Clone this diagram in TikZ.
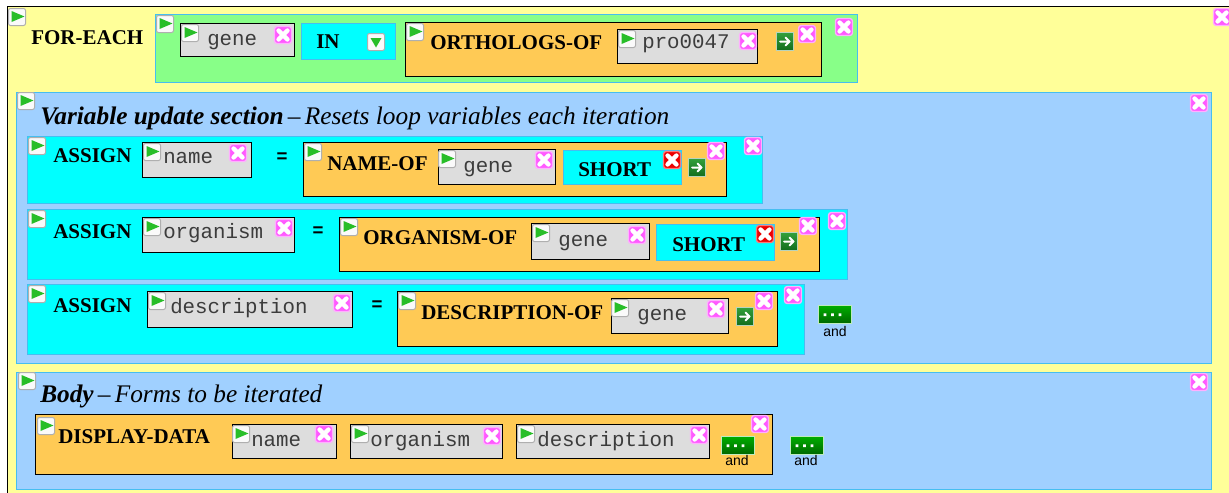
\documentclass[tikz,border=0pt]{standalone}
\usepackage{fontspec}
\setmainfont{Liberation Serif}
\newfontfamily\codefont{Liberation Mono}
\newfontfamily\labelfont{Liberation Sans}

\definecolor{pagebg}{RGB}{255,255,153}
\definecolor{argsgreen}{RGB}{136,255,136}
\definecolor{edgeblue}{RGB}{70,190,240}
\definecolor{sectionblue}{RGB}{160,208,255}
\definecolor{rowcyan}{RGB}{0,255,255}
\definecolor{formorange}{RGB}{255,202,85}
\definecolor{slotgrey}{RGB}{221,221,221}
\definecolor{codegrey}{RGB}{60,60,60}
\definecolor{playgreen}{RGB}{40,190,40}
\definecolor{iconface}{RGB}{250,250,250}
\definecolor{iconrim}{RGB}{175,175,175}
\definecolor{closepink}{RGB}{255,90,255}
\definecolor{closerim}{RGB}{255,175,255}
\definecolor{closered}{RGB}{235,0,0}
\definecolor{redrim}{RGB}{255,120,120}
\definecolor{gotop}{RGB}{50,160,60}
\definecolor{gobottom}{RGB}{20,110,30}
\definecolor{moretop}{RGB}{0,175,0}
\definecolor{morebottom}{RGB}{0,105,0}

\tikzset{
  px/.style={line width=0.75pt},
  sectionbox/.style={fill=sectionblue,draw=edgeblue,px},
  rowbox/.style={fill=rowcyan,draw=edgeblue,px},
  argsbox/.style={fill=argsgreen,draw=edgeblue,px},
  formbox/.style={fill=formorange,draw=black,px},
  slotbox/.style={fill=slotgrey,draw=black,px},
  kw/.style={font=\bfseries\fontsize{15.75}{18}\selectfont,anchor=base west,inner sep=0pt},
  code/.style={font=\codefont\fontsize{15.6}{18}\selectfont,text=codegrey,anchor=base west,inner sep=0pt},
  heading/.style={font=\itshape\fontsize{19}{22}\selectfont,anchor=base west,inner sep=0pt},
  eqsign/.style={font=\labelfont\bfseries\fontsize{14}{16}\selectfont,inner sep=0pt},
  andlabel/.style={font=\labelfont\fontsize{10.5}{12}\selectfont,anchor=base,inner sep=0pt},
  % small buttons, placed by their top left corner
  playbtn/.pic={
    \filldraw[fill=iconface,draw=iconrim,line width=0.75pt,rounded corners=1.5pt]
      (0.5,0.5) rectangle (17.5,17.5);
    \fill[playgreen] (3.5,3) -- (16.5,8.5) -- (3.5,14) -- cycle;
  },
  dropbtn/.pic={
    \filldraw[fill=iconface,draw=iconrim,line width=0.75pt,rounded corners=1.5pt]
      (0.5,0.5) rectangle (17.5,17.5);
    \fill[playgreen] (3.5,5) -- (14.5,5) -- (9,14.5) -- cycle;
  },
  closebtn/.pic={
    \filldraw[fill=closepink,draw=closerim,line width=1pt,rounded corners=2pt]
      (0.5,0.5) rectangle (17.5,17.5);
    \draw[white,line width=3.4pt,line cap=round] (4.6,4.6) -- (13.4,13.4) (13.4,4.6) -- (4.6,13.4);
  },
  redclose/.pic={
    \filldraw[fill=closered,draw=redrim,line width=1pt,rounded corners=2pt]
      (0.5,0.5) rectangle (17.5,17.5);
    \draw[white,line width=3.4pt,line cap=round] (4.6,4.6) -- (13.4,13.4) (13.4,4.6) -- (4.6,13.4);
  },
  gobtn/.pic={
    \shadedraw[top color=gotop,bottom color=gobottom,draw=white!70!gobottom,line width=0.6pt]
      (0.5,0.5) rectangle (17.5,18);
    \draw[white,line width=1.5pt,line cap=round,line join=round]
      (4,9.5) -- (13.5,9.5) (9.5,5.5) -- (13.5,9.5) -- (9.5,13.5);
  },
  andbtn/.pic={
    \shadedraw[top color=moretop,bottom color=morebottom,draw=white!75!moretop,line width=0.75pt]
      (0,0) rectangle (33,18);
    \fill[white] (5.7,8.3) rectangle (8.4,11)
                 (13.2,8.3) rectangle (15.9,11)
                 (20.7,8.3) rectangle (23.4,11);
  }
}

\begin{document}
\begin{tikzpicture}[x=0.75pt,y=-0.75pt]
\useasboundingbox (0,0) rectangle (1229,493);
\fill[white] (0,0) rectangle (1229,493);

% FOR-EACH form
\fill[pagebg] (7,6) rectangle (1229,493);
\draw[black,px] (7,493) -- (7,6) -- (1229,6);
\pic at (8,8) {playbtn};
\node[kw] (foreach) at (31,44) {FOR-EACH};
\pic at (1213,8) {closebtn};

% loop clause
\filldraw[argsbox] (155,14) rectangle (857,82);
\pic at (156,15) {playbtn};
\filldraw[slotbox] (180,23) rectangle (294,56);
\pic at (181,24) {playbtn};
\node[code] (loopvar) at (207,45) {gene};
\pic at (274,26) {closebtn};
\filldraw[rowbox] (301,23) rectangle (395,59);
\node[kw] (inkw) at (316,48) {IN};
\pic at (367,33) {dropbtn};
\filldraw[formbox] (405,22) rectangle (821,76);
\pic at (406,23) {playbtn};
\node[kw] (orthologs) at (430,49) {ORTHOLOGS-OF};
\filldraw[slotbox] (617,29) rectangle (757,63);
\pic at (618,30) {playbtn};
\node[code] (protein) at (642,48) {pro0047};
\pic at (739,32) {closebtn};
\pic at (776,32) {gobtn};
\pic at (798,25) {closebtn};
\pic at (835,18) {closebtn};

% variable update section
\filldraw[sectionbox] (16,92) rectangle (1211,363);
\pic at (17,92) {playbtn};
\node[heading] (varhead) at (40,124) {\textbf{Variable update section}\,--\,Resets loop variables each iteration};
\pic at (1190,94) {closebtn};

% ASSIGN name
\filldraw[rowbox] (27,136) rectangle (762,203);
\pic at (28,137) {playbtn};
\node[kw] (assignA) at (53,162) {ASSIGN};
\filldraw[slotbox] (142,142) rectangle (251,177);
\pic at (143,143) {playbtn};
\node[code] (nameA) at (163,163) {name};
\pic at (229,144) {closebtn};
\node[eqsign] (eqA) at (282,158) {=};
\filldraw[formbox] (303,142) rectangle (726,196);
\pic at (304,143) {playbtn};
\node[kw] (nameof) at (327,170) {NAME-OF};
\filldraw[slotbox] (438,149) rectangle (555,184);
\pic at (438,150) {playbtn};
\node[code] (geneA) at (463,172) {gene};
\pic at (535,151) {closebtn};
\filldraw[rowbox] (563,150) rectangle (681,184);
\node[kw] (shortA) at (578,176) {SHORT};
\pic at (663,151) {redclose};
\pic at (688,158) {gobtn};
\pic at (707,142) {closebtn};
\pic at (744,137) {closebtn};

% ASSIGN organism
\filldraw[rowbox] (27,209) rectangle (847,279);
\pic at (28,210) {playbtn};
\node[kw] (assignB) at (53,238) {ASSIGN};
\filldraw[slotbox] (142,217) rectangle (294,252);
\pic at (143,218) {playbtn};
\node[code] (organismB) at (163,238) {organism};
\pic at (275,219) {closebtn};
\node[eqsign] (eqB) at (318,232) {=};
\filldraw[formbox] (339,217) rectangle (819,271);
\pic at (340,218) {playbtn};
\node[kw] (organismof) at (363,244) {ORGANISM-OF};
\filldraw[slotbox] (531,223) rectangle (649,259);
\pic at (532,224) {playbtn};
\node[code] (geneB) at (558,246) {gene};
\pic at (628,226) {closebtn};
\filldraw[rowbox] (656,224) rectangle (774,260);
\node[kw] (shortB) at (672,251) {SHORT};
\pic at (756,225) {redclose};
\pic at (780,232) {gobtn};
\pic at (799,217) {closebtn};
\pic at (828,212) {closebtn};

% ASSIGN description
\filldraw[rowbox] (27,284) rectangle (804,354);
\pic at (28,285) {playbtn};
\node[kw] (assignC) at (53,312) {ASSIGN};
\filldraw[slotbox] (147,291) rectangle (352,327);
\pic at (148,292) {playbtn};
\node[code] (descC) at (170,313) {description};
\pic at (333,294) {closebtn};
\node[eqsign] (eqC) at (377,306) {=};
\filldraw[formbox] (397,291) rectangle (777,346);
\pic at (398,292) {playbtn};
\node[kw] (descof) at (421,319) {DESCRIPTION-OF};
\filldraw[slotbox] (611,298) rectangle (728,333);
\pic at (611,299) {playbtn};
\node[code] (geneC) at (637,320) {gene};
\pic at (707,300) {closebtn};
\pic at (736,307) {gobtn};
\pic at (755,292) {closebtn};
\pic at (784,286) {closebtn};
\pic at (818,305) {andbtn};
\node[andlabel] (andC) at (835,336) {and};

% body section
\filldraw[sectionbox] (16,372) rectangle (1211,489);
\pic at (18,372) {playbtn};
\node[heading] (bodyhead) at (40,402) {\textbf{Body}\,--\,Forms to be iterated};
\pic at (1190,373) {closebtn};
\filldraw[formbox] (35,414) rectangle (772,474);
\pic at (37,417) {playbtn};
\node[kw] (display) at (58,443) {DISPLAY-DATA};
\filldraw[slotbox] (232,424) rectangle (336,458);
\pic at (232,425) {playbtn};
\node[code] (nameD) at (251,446) {name};
\pic at (315,425) {closebtn};
\filldraw[slotbox] (350,424) rectangle (502,458);
\pic at (351,425) {playbtn};
\node[code] (organismD) at (370,446) {organism};
\pic at (483,427) {closebtn};
\filldraw[slotbox] (516,424) rectangle (709,458);
\pic at (517,425) {playbtn};
\node[code] (descD) at (537,446) {description};
\pic at (690,426) {closebtn};
\pic at (721,436) {andbtn};
\node[andlabel] (andD) at (737,465) {and};
\pic at (751,415) {closebtn};
\pic at (790,436) {andbtn};
\node[andlabel] (andE) at (806,465) {and};
\end{tikzpicture}
\end{document}
